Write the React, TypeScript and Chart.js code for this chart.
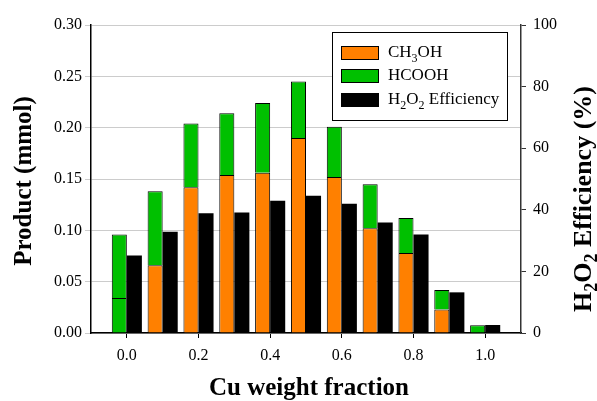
import React, { useEffect, useRef } from 'react';
import { Chart, registerables } from 'chart.js';
Chart.register(...registerables);

const cuFraction = [0, 0.1, 0.2, 0.3, 0.4, 0.5, 0.6, 0.7, 0.8, 0.9, 1.0];
const ch3oh = [0.034, 0.066, 0.142, 0.154, 0.156, 0.190, 0.152, 0.102, 0.078, 0.023, 0];
const hcooh = [0.062, 0.072, 0.062, 0.060, 0.068, 0.055, 0.049, 0.043, 0.034, 0.019, 0.0075];
const h2o2Eff = [25.2, 32.9, 38.9, 39.1, 42.9, 44.6, 42.0, 35.9, 32.0, 13.2, 2.6];
const xTickValues = [0, 0.2, 0.4, 0.6, 0.8, 1.0];

const ORANGE = '#FF8000';
const GREEN = '#00C000';
const SERIF = "'Liberation Serif', 'Times New Roman', serif";

type Part = { t: string; sub?: boolean };

function drawRich(ctx: CanvasRenderingContext2D, parts: Part[], x: number, y: number, size: number, bold: boolean, align: 'left' | 'center') {
  const w = bold ? 'bold ' : '';
  const subSize = Math.round(size * 0.68);
  let total = 0;
  const widths = parts.map((p) => {
    ctx.font = `${w}${p.sub ? subSize : size}px ${SERIF}`;
    const m = ctx.measureText(p.t).width;
    total += m;
    return m;
  });
  let cx = align === 'center' ? x - total / 2 : x;
  ctx.textAlign = 'left';
  ctx.textBaseline = 'middle';
  parts.forEach((p, i) => {
    ctx.font = `${w}${p.sub ? subSize : size}px ${SERIF}`;
    ctx.fillText(p.t, cx, p.sub ? y + size * 0.32 : y);
    cx += widths[i];
  });
}

const overlayPlugin = {
  id: 'overlay',
  afterDraw(chart: any) {
    const ctx: CanvasRenderingContext2D = chart.ctx;
    const area = chart.chartArea;
    ctx.save();
    ctx.fillStyle = '#000';
    // left title
    ctx.save();
    ctx.translate(25, 181);
    ctx.rotate(-Math.PI / 2);
    drawRich(ctx, [{ t: 'Product (mmol)' }], 0, 0, 25, true, 'center');
    ctx.restore();
    // x title
    drawRich(ctx, [{ t: 'Cu weight fraction' }], (area.left + area.right) / 2 + 3, 389, 25, true, 'center');
    // right title
    ctx.save();
    ctx.translate(584, 199);
    ctx.rotate(-Math.PI / 2);
    drawRich(ctx, [{ t: 'H' }, { t: '2', sub: true }, { t: 'O' }, { t: '2', sub: true }, { t: ' Efficiency (%)' }], 0, 0, 26, true, 'center');
    ctx.restore();

    // legend
    const lx = 332, ly = 32, lw = 175, lh = 88;
    ctx.fillStyle = '#fff';
    ctx.fillRect(lx, ly, lw, lh);
    ctx.strokeStyle = '#000';
    ctx.lineWidth = 1;
    ctx.strokeRect(lx + 0.5, ly + 0.5, lw, lh);
    const items: { color: string; parts: Part[] }[] = [
      { color: ORANGE, parts: [{ t: 'CH' }, { t: '3', sub: true }, { t: 'OH' }] },
      { color: GREEN, parts: [{ t: 'HCOOH' }] },
      { color: '#000', parts: [{ t: 'H' }, { t: '2', sub: true }, { t: 'O' }, { t: '2', sub: true }, { t: ' Efficiency' }] },
    ];
    const rows = [53, 76, 100];
    items.forEach((it, i) => {
      const cy = rows[i];
      ctx.fillStyle = it.color;
      ctx.fillRect(341, cy - 7, 38, 14);
      ctx.strokeStyle = '#000';
      ctx.strokeRect(341.5, cy - 6.5, 37, 13);
      ctx.fillStyle = '#000';
      drawRich(ctx, it.parts, 388, cy, 17, false, 'left');
    });
    ctx.restore();
  },
};

export default function App() {
  const ref = useRef<HTMLCanvasElement | null>(null);
  useEffect(() => {
    if (!ref.current) return;
    const chart = new Chart(ref.current, {
      type: 'bar',
      data: {
        datasets: [
          {
            label: 'CH3OH',
            data: cuFraction.map((x, i) => ({ x, y: ch3oh[i] })),
            backgroundColor: ch3oh.map((_, i) => (i === 0 ? GREEN : ORANGE)),
            borderColor: '#000',
            borderWidth: 1,
            stack: 'products',
            yAxisID: 'y',
          },
          {
            label: 'HCOOH',
            data: cuFraction.map((x, i) => ({ x, y: hcooh[i] })),
            backgroundColor: GREEN,
            borderColor: '#000',
            borderWidth: 1,
            stack: 'products',
            yAxisID: 'y',
          },
          {
            label: 'H2O2 Efficiency',
            data: cuFraction.map((x, i) => ({ x, y: h2o2Eff[i] })),
            backgroundColor: '#000',
            borderWidth: 0,
            stack: 'eff',
            yAxisID: 'y2',
          },
        ] as any,
      },
      options: {
        animation: false,
        responsive: false,
        datasets: { bar: { barPercentage: 1, categoryPercentage: 0.84 } } as any,
        layout: { padding: { top: 25, left: 0, right: 0, bottom: 0 } },
        plugins: { legend: { display: false }, tooltip: { enabled: false } },
        scales: {
          x: {
            type: 'linear',
            min: -0.1,
            max: 1.1,
            offset: false,
            afterBuildTicks: (scale: any) => {
              scale.ticks = xTickValues.map((v) => ({ value: v }));
            },
            afterFit: (scale: any) => {
              scale.height = 68;
            },
            ticks: {
              callback: (v: any) => Number(v).toFixed(1),
              font: { family: SERIF, size: 16 },
              color: '#000',
              padding: 8,
              maxRotation: 0,
            },
            grid: { offset: false, drawOnChartArea: false, drawTicks: true, tickLength: 5, color: '#000' },
            border: { color: '#000', width: 1.5 },
          },
          y: {
            position: 'left',
            stacked: true,
            min: 0,
            max: 0.3,
            afterFit: (scale: any) => {
              scale.width = 91;
            },
            ticks: {
              stepSize: 0.05,
              callback: (v: any) => Number(v).toFixed(2),
              font: { family: SERIF, size: 16 },
              color: '#000',
              padding: 3,
            },
            grid: { color: '#cccccc', tickLength: 6, lineWidth: 1 },
            border: { color: '#000', width: 1.5 },
          },
          y2: {
            position: 'right',
            min: 0,
            max: 100,
            afterFit: (scale: any) => {
              scale.width = 76;
            },
            ticks: {
              stepSize: 20,
              font: { family: SERIF, size: 16 },
              color: '#000',
              padding: 7,
            },
            grid: { drawOnChartArea: false, tickLength: 5, color: '#333' },
            border: { color: '#333', width: 1.5 },
          },
        } as any,
      },
      plugins: [overlayPlugin],
    });
    return () => chart.destroy();
  }, []);
  return (
    <div style={{ position: 'absolute', left: 0, top: 0, width: 597, height: 401, background: '#fff' }}>
      <canvas ref={ref} width={597} height={401} style={{ width: 597, height: 401 }} />
    </div>
  );
}
